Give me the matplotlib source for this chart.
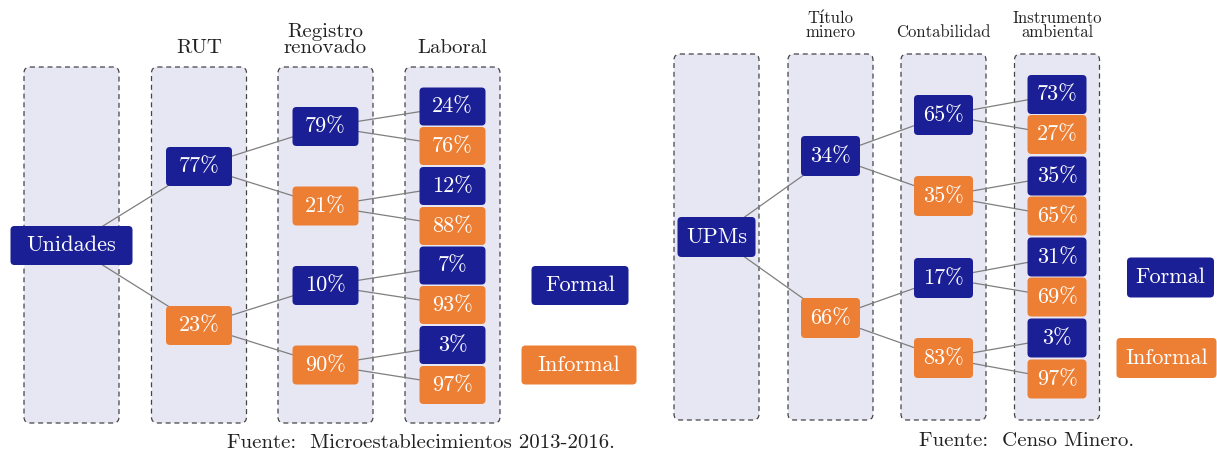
import matplotlib
matplotlib.use("Agg")
import matplotlib.pyplot as plt
from matplotlib.patches import FancyBboxPatch

# ── data ────────────────────────────────────────────────────────────────────
left_headers = ["", "RUT", "Registro\nrenovado", "Laboral"]
left_root = "Unidades"
left_lvl1 = ["77%", "23%"]
left_lvl2 = ["79%", "21%", "10%", "90%"]
left_lvl3 = ["24%", "76%", "12%", "88%", "7%", "93%", "3%", "97%"]
left_source = "Fuente:  Microestablecimientos 2013-2016."

right_headers = ["", "Título\nminero", "Contabilidad", "Instrumento\nambiental"]
right_root = "UPMs"
right_lvl1 = ["34%", "66%"]
right_lvl2 = ["65%", "35%", "17%", "83%"]
right_lvl3 = ["73%", "27%", "35%", "65%", "31%", "69%", "3%", "97%"]
right_source = "Fuente:  Censo Minero."

legend_labels = ["Formal", "Informal"]

BLUE = "#1b1f96"
ORANGE = "#ed7f34"
COL_FILL = "#e7e7f3"
EDGE_GRAY = "#444444"
LINE_GRAY = "#7f7f7f"
FONT = ["cmr10", "DejaVu Serif"]
BOX_SIZE = 16

plt.rcParams["font.family"] = FONT


def box(ax, cx, cy, w, h, color, text, size=BOX_SIZE, r=4):
    p = FancyBboxPatch((cx - w / 2 + r, cy - h / 2 + r), w - 2 * r, h - 2 * r,
                       boxstyle=f"round,pad={r}", facecolor=color,
                       edgecolor="none", zorder=3)
    ax.add_patch(p)
    ax.text(cx, cy, text, color="white", fontsize=size, ha="center",
            va="center", zorder=4)


def column(ax, cx, top, bottom, w, r=6):
    p = FancyBboxPatch((cx - w / 2 + r, top + r), w - 2 * r, bottom - top - 2 * r,
                       boxstyle=f"round,pad={r}", facecolor=COL_FILL,
                       edgecolor=EDGE_GRAY, linestyle=(0, (4, 3)),
                       linewidth=0.9, zorder=1)
    ax.add_patch(p)


def tree(ax, lay, root, lvl1, lvl2, lvl3, headers, source):
    xs = lay["col_x"]
    for i, cx in enumerate(xs):
        column(ax, cx, lay["top"], lay["bottom"], lay["col_w"])
        if headers[i]:
            ax.text(cx, lay["head_y"], headers[i], fontsize=lay["head_size"],
                    ha="center", va="baseline", multialignment="center",
                    linespacing=0.87, color="#222222")

    pts0 = [(xs[0], lay["root_y"])]
    pts1 = [(xs[1], y) for y in lay["y1"]]
    pts2 = [(xs[2], y) for y in lay["y2"]]
    pts3 = [(xs[3], y) for y in lay["y3"]]

    # edges, centre to centre, hidden under the boxes
    for b in range(2):
        ax.plot([pts0[0][0], pts1[b][0]], [pts0[0][1], pts1[b][1]],
                color=LINE_GRAY, lw=0.9, zorder=2)
    for j in range(4):
        a = pts1[j // 2]
        ax.plot([a[0], pts2[j][0]], [a[1], pts2[j][1]], color=LINE_GRAY, lw=0.9, zorder=2)
    for k in range(8):
        a = pts2[k // 2]
        ax.plot([a[0], pts3[k][0]], [a[1], pts3[k][1]], color=LINE_GRAY, lw=0.9, zorder=2)

    cols = [BLUE, ORANGE]
    box(ax, *pts0[0], lay["root_w"], lay["h"], BLUE, root)
    for i, (x, y) in enumerate(pts1):
        box(ax, x, y, lay["w"], lay["h"], cols[i % 2], lvl1[i])
    for i, (x, y) in enumerate(pts2):
        box(ax, x, y, lay["w"], lay["h"], cols[i % 2], lvl2[i])
    for i, (x, y) in enumerate(pts3):
        box(ax, x, y, lay["w"], lay["h3"], cols[i % 2], lvl3[i])

    for lab, col, (lx, ly, lw) in zip(legend_labels, cols, lay["legend"]):
        box(ax, lx, ly, lw, lay["h"], col, lab)

    ax.text(lay["src_x"], lay["src_y"], source, fontsize=15, ha="center",
            va="baseline", color="#222222")


fig = plt.figure(figsize=(12.17, 4.53), dpi=100)
ax = fig.add_axes([0, 0, 1, 1])
ax.set_xlim(0, 1217)
ax.set_ylim(453, 0)
ax.axis("off")

left_layout = dict(
    col_x=[71.5, 199, 325.5, 452.5], col_w=95, top=67, bottom=423,
    head_y=53, head_size=15,
    root_y=245.5, root_w=122, w=66, h=39, h3=38,
    y1=[166.5, 325.5], y2=[126.5, 206, 285.5, 365],
    y3=[106.5, 146, 186, 226, 265.5, 305, 345, 385],
    legend=[(580, 285.5, 97), (579, 365, 115)],
    src_x=421, src_y=448,
)
right_layout = dict(
    col_x=[716.5, 830.5, 943.5, 1057], col_w=85, top=54, bottom=420,
    head_y=37, head_size=12,
    root_y=237, root_w=78, w=59, h=40, h3=39,
    y1=[156, 318], y2=[115, 196, 278, 358],
    y3=[94.5, 134.5, 176, 216, 257, 297, 338, 379],
    legend=[(1170.5, 277.5, 87), (1166.5, 358, 100)],
    src_x=1027, src_y=446,
)

tree(ax, left_layout, left_root, left_lvl1, left_lvl2, left_lvl3,
     left_headers, left_source)
tree(ax, right_layout, right_root, right_lvl1, right_lvl2, right_lvl3,
     right_headers, right_source)

fig.savefig("out.png", dpi=100)
